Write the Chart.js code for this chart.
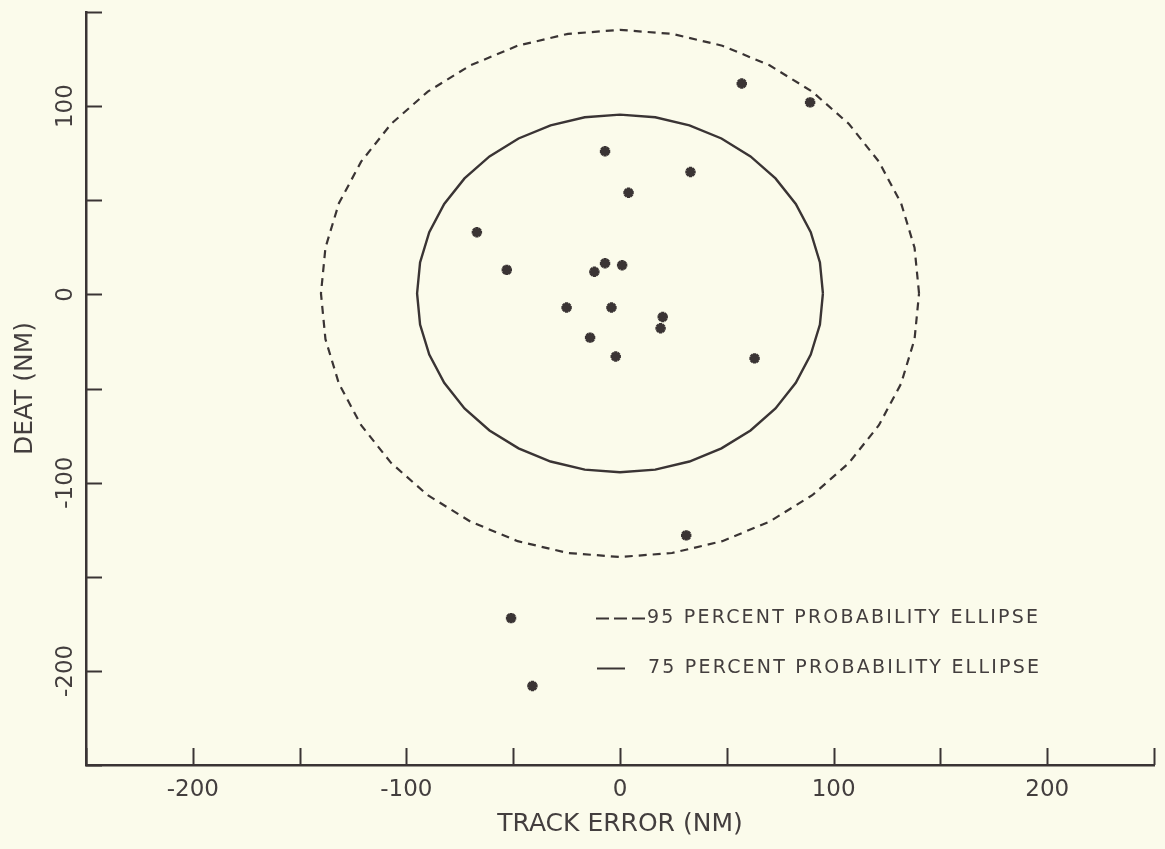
<!DOCTYPE html>
<html>
<head>
<meta charset="utf-8">
<script src="https://cdn.jsdelivr.net/npm/chart.js@4.4.0/dist/chart.umd.min.js"></script>
<style>
html,body{margin:0;padding:0;background:#fbfbeb;}
#wrap{width:1165px;height:849px;position:relative;}
canvas{display:block;}
</style>
</head>
<body>
<div id="wrap"><canvas id="c" width="1165" height="849"></canvas></div>
<script>
// ---- data ----
const trackError = [57, 89, -7, 33, 4, -67, -53, -12, -7, 1, -25, -4, 20, 19, -14, -2, 63, 31, -51, -41];
const deat       = [112, 102, 76, 65, 54, 33, 13, 12, 16.5, 15.5, -7, -7, -12, -18, -23, -33, -34, -128, -172, -208];

// vertices of the plotted ellipses
const ellipse95X = [140, 137.9, 131.6, 121.2, 107.2, 90, 70, 47.9, 24.3, 0, -24.3, -47.9, -70, -90, -107.2, -121.2, -131.6, -137.9, -140, -137.9, -131.6, -121.2, -107.2, -90, -70, -47.9, -24.3, 0, 24.3, 47.9, 70, 90, 107.2, 121.2, 131.6, 137.9, 140];
const ellipse95Y = [0.5, 24.8, 48.4, 70.5, 90.5, 107.7, 121.7, 132.1, 138.4, 140.5, 138.4, 132.1, 121.7, 107.7, 90.5, 70.5, 48.4, 24.8, 0.5, -23.8, -47.4, -69.5, -89.5, -106.7, -120.7, -131.1, -137.4, -139.5, -137.4, -131.1, -120.7, -106.7, -89.5, -69.5, -47.4, -23.8, 0.5];
const ellipse75X = [95, 93.6, 89.3, 82.3, 72.8, 61.1, 47.5, 32.5, 16.5, 0, -16.5, -32.5, -47.5, -61.1, -72.8, -82.3, -89.3, -93.6, -95, -93.6, -89.3, -82.3, -72.8, -61.1, -47.5, -32.5, -16.5, 0, 16.5, 32.5, 47.5, 61.1, 72.8, 82.3, 89.3, 93.6, 95];
const ellipse75Y = [0.5, 17, 33, 48, 61.6, 73.3, 82.8, 89.8, 94.1, 95.5, 94.1, 89.8, 82.8, 73.3, 61.6, 48, 33, 17, 0.5, -16, -32, -47, -60.6, -72.3, -81.8, -88.8, -93.1, -94.5, -93.1, -88.8, -81.8, -72.3, -60.6, -47, -32, -16, 0.5];

const xTickLabels = [-200, -100, 0, 100, 200];
const yTickLabels = [-200, -100, 0, 100];
const legendLabels = ['95 PERCENT PROBABILITY ELLIPSE', '75 PERCENT PROBABILITY ELLIPSE'];
const xTitle = 'TRACK ERROR (NM)';
const yTitle = 'DEAT (NM)';

// ---- styles ----
const INK = '#3a3434';
const TEXT = '#433e3e';
const FONT = '"DejaVu Sans", sans-serif';

const toPts = (xs, ys) => xs.map((v, i) => ({x: v, y: ys[i]}));

const inwardTicks = {
  id: 'inwardTicks',
  afterDatasetsDraw(chart) {
    const {ctx, chartArea} = chart;
    const xs = chart.scales.x, ys = chart.scales.y;
    ctx.save();
    ctx.strokeStyle = INK;
    ctx.lineWidth = 2;
    xs.ticks.forEach(t => {
      const px = Math.round(xs.getPixelForValue(t.value)) + 0.5;
      ctx.beginPath();
      ctx.moveTo(px, chartArea.bottom);
      ctx.lineTo(px, chartArea.bottom - 17);
      ctx.stroke();
    });
    ys.ticks.forEach(t => {
      const py = Math.round(ys.getPixelForValue(t.value)) + 0.5;
      ctx.beginPath();
      ctx.moveTo(chartArea.left, py);
      ctx.lineTo(chartArea.left + 16, py);
      ctx.stroke();
    });
    ctx.restore();
  }
};

const ellipseLegend = {
  id: 'ellipseLegend',
  afterDraw(chart) {
    const {ctx, chartArea} = chart;
    const ds = chart.data.datasets;
    const rows = [
      {i: 0, x0: chartArea.left + 510, x1: chartArea.left + 559, tx: chartArea.left + 561, y: chartArea.top + 606},
      {i: 1, x0: chartArea.left + 511, x1: chartArea.left + 539, tx: chartArea.left + 562, y: chartArea.top + 656}
    ];
    ctx.save();
    rows.forEach(r => {
      const d = ds[r.i];
      ctx.strokeStyle = d.borderColor;
      ctx.lineWidth = 2;
      ctx.setLineDash(d.borderDash && d.borderDash.length ? [13, 5] : []);
      ctx.beginPath();
      ctx.moveTo(r.x0, r.y + 0.5);
      ctx.lineTo(r.x1, r.y + 0.5);
      ctx.stroke();
      ctx.setLineDash([]);
      ctx.fillStyle = TEXT;
      ctx.font = '19px ' + FONT;
      try { ctx.letterSpacing = '2.2px'; } catch (e) {}
      ctx.textAlign = 'left';
      ctx.textBaseline = 'middle';
      ctx.fillText(d.label, r.tx, r.y);
    });
    ctx.restore();
  }
};

new Chart(document.getElementById('c'), {
  type: 'scatter',
  data: {
    datasets: [
      {
        label: legendLabels[0],
        data: toPts(ellipse95X, ellipse95Y),
        showLine: true, tension: 0, fill: false,
        borderColor: INK, borderWidth: 2.2, borderDash: [8, 6],
        pointRadius: 0, pointHoverRadius: 0, order: 3
      },
      {
        label: legendLabels[1],
        data: toPts(ellipse75X, ellipse75Y),
        showLine: true, tension: 0, fill: false,
        borderColor: INK, borderWidth: 2.4,
        pointRadius: 0, pointHoverRadius: 0, order: 2
      },
      {
        label: 'OBSERVATIONS',
        data: toPts(trackError, deat),
        showLine: false,
        pointStyle: 'star', pointRadius: 5.2, borderWidth: 3.2,
        borderColor: INK, backgroundColor: INK, order: 1
      }
    ]
  },
  options: {
    responsive: false,
    animation: false,
    devicePixelRatio: 1,
    layout: {padding: {top: 12, right: 11, left: 0, bottom: 0}},
    plugins: {legend: {display: false}, tooltip: {enabled: false}},
    scales: {
      x: {
        type: 'linear', position: 'bottom', min: -250, max: 250,
        afterFit: s => { s.height = 84; },
        grid: {display: false, drawTicks: false},
        border: {display: true, color: INK, width: 2.5},
        ticks: {
          stepSize: 50, autoSkip: false, maxRotation: 0, minRotation: 0,
          padding: 11, color: TEXT, font: {family: FONT, size: 23},
          callback: v => xTickLabels.includes(v) ? String(v) : ''
        },
        title: {display: true, text: xTitle, color: TEXT, font: {family: FONT, size: 25}, padding: {top: 0, bottom: 10}}
      },
      y: {
        type: 'linear', position: 'left', min: -250, max: 150,
        afterFit: s => { s.width = 86; },
        grid: {display: false, drawTicks: false},
        border: {display: true, color: INK, width: 2.5},
        ticks: {
          stepSize: 50, autoSkip: false, minRotation: 90, maxRotation: 90,
          crossAlign: 'center', padding: -6, color: TEXT, font: {family: FONT, size: 23},
          callback: v => yTickLabels.includes(v) ? String(v) : ''
        },
        title: {display: true, text: yTitle, color: TEXT, font: {family: FONT, size: 25}, padding: {top: 10, bottom: 0}}
      }
    }
  },
  plugins: [inwardTicks, ellipseLegend]
});
</script>
</body>
</html>
